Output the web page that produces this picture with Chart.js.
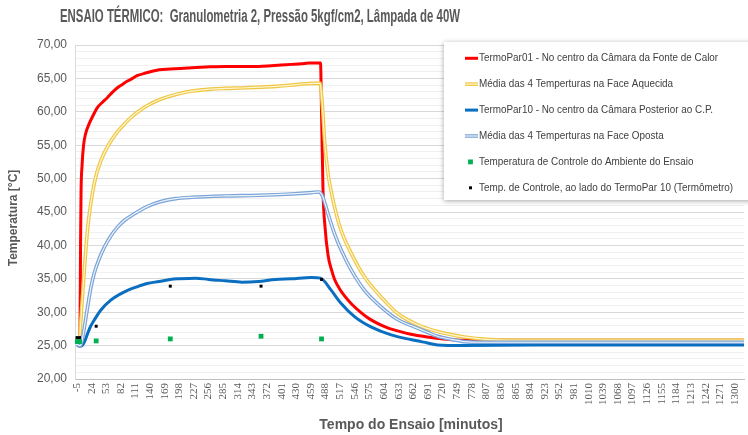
<!DOCTYPE html>
<html><head><meta charset="utf-8">
<script src="https://cdn.jsdelivr.net/npm/chart.js@4/dist/chart.umd.min.js"></script>
<style>html,body{margin:0;padding:0;background:#fff;overflow:hidden}canvas{display:block}</style>
</head><body>
<canvas id="c" width="748" height="435"></canvas>
<script>
const chartTitle = 'ENSAIO TÉRMICO:  Granulometria 2, Pressão 5kgf/cm2, Lâmpada de 40W';
const xTitle = 'Tempo do Ensaio [minutos]';
const yTitle = 'Temperatura [°C]';
const seriesNames = [
  'TermoPar01 - No centro da Câmara da Fonte de Calor',
  'Média das 4 Temperturas na Face Aquecida',
  'TermoPar10 - No centro da Câmara Posterior ao C.P.',
  'Média das 4 Temperturas na Face Oposta',
  'Temperatura de Controle do Ambiente do Ensaio',
  'Temp. de Controle, ao lado do TermoPar 10 (Termômetro)'
];
const xTickLabels = [-5,24,53,82,111,140,169,198,227,256,285,314,343,372,401,430,459,488,517,546,575,604,633,662,691,720,749,778,807,836,865,894,923,952,981,1010,1039,1068,1097,1126,1155,1184,1213,1242,1271,1300];

// TermoPar01 (red)
const tRed = [-5,0,1,2,3,5,8,12,19,24,35,45,55,65,75,85,95,105,114,131,158,180,200,223,250,289,320,355,380,400,420,440,455,470,478,480,483,487,493,500,506,515,526,540,559,575,592,610,631,657,690,723,760,800,900,1000,1100,1200,1318];
const vRed = [25.8,26.0,28,40,48,52,55,56.7,58.2,59.0,60.6,61.4,62.1,62.9,63.6,64.1,64.6,65.0,65.4,65.8,66.3,66.4,66.5,66.6,66.7,66.8,66.8,66.8,66.9,67.0,67.1,67.2,67.3,67.3,67.3,60,48,42.7,38.5,36.3,34.9,33.6,32.4,31.2,29.9,29.0,28.3,27.7,27.2,26.7,26.3,26.0,25.8,25.8,25.8,25.8,25.8,25.8,25.8];

// Média Face Aquecida (yellow)
const tYel = [-5,0,2,5,9,16,26,34,42,52,62,75,88,100,114,134,158,191,223,260,289,330,355,390,420,450,477,480,483,486,493,500,506,519,539,565,598,631,671,710,763,815,860,1000,1318];
const vYel = [26.0,26.0,28,31.5,35.8,42.5,48,50.8,52.6,54.3,55.6,57.0,58.1,59.0,59.9,60.9,61.8,62.6,63.1,63.4,63.5,63.6,63.7,63.8,64.0,64.2,64.3,62.5,59.5,55.7,50.7,47.8,45.7,42.2,38.8,35.3,32.3,29.8,28.1,27.1,26.3,25.9,25.8,25.8,25.8];

// TermoPar10 (dark blue)
const tDb = [-5,0,5,10,16,22,29,42,62,88,114,134,158,180,197,230,256,289,322,355,388,420,460,478,499,519,546,578,618,657,690,710,760,900,1100,1318];
const vDb = [25.1,24.9,25.0,25.6,26.8,27.9,28.8,30.3,31.8,33.0,33.8,34.3,34.6,34.9,35.0,35.1,34.9,34.7,34.5,34.6,34.9,35.0,35.2,35.1,33.3,31.3,29.3,27.8,26.6,25.9,25.4,25.1,25.0,25.1,25.1,25.1];

// Média Face Oposta (light blue)
const tLb = [-5,0,3,8,16,22,29,39,49,62,75,90,108,134,158,191,223,289,355,420,460,475,479,483,493,506,519,539,565,598,631,664,690,710,740,763,800,1000,1318];
const vLb = [25.2,25.0,25.2,27.0,30.8,33.5,35.8,38.0,39.7,41.4,42.7,43.8,44.7,45.8,46.5,47.0,47.2,47.4,47.5,47.7,47.9,48.0,47.8,47.2,44.7,41.7,39.3,36.3,33.3,30.8,28.9,27.8,27.0,26.4,25.9,25.6,25.5,25.5,25.5];

// Control points
const tGreen = [-5,0,33,180,360,480];
const vGreen = [25.6,25.6,25.7,26.0,26.4,26.0];
const tBlack = [-5,0,33,180,360,480];
const vBlack = [26.2,26.2,27.9,33.9,33.9,34.9];

const pts = (t, v) => t.map((x, i) => ({x, y: v[i]}));
const lineDs = (label, t, v, color, width, order, legend) => ({
  label, data: pts(t, v), borderColor: color, backgroundColor: color,
  borderWidth: width, pointRadius: 0, pointHoverRadius: 0, order,
  cubicInterpolationMode: 'monotone', fill: false, legend
});
const pointDs = (label, t, v, color, r, order) => ({
  label, data: pts(t, v), showLine: false, borderColor: color, backgroundColor: color,
  pointStyle: 'rect', pointRadius: r, pointBorderWidth: 0, order, legend: true
});

const datasets = [
  lineDs(seriesNames[0], tRed, vRed, '#FF0000', 3, 9, true),
  lineDs(seriesNames[1], tYel, vYel, '#EEC743', 3.6, 8, true),
  lineDs(seriesNames[1] + ' (inner)', tYel, vYel, '#FFF5D2', 1.2, 7.5, false),
  lineDs(seriesNames[2], tDb, vDb, '#0B6FC1', 3, 7, true),
  lineDs(seriesNames[3], tLb, vLb, '#7BA4D8', 3.6, 6, true),
  lineDs(seriesNames[3] + ' (inner)', tLb, vLb, '#EEF3FA', 1.2, 5.5, false),
  pointDs(seriesNames[4], tGreen, vGreen, '#00B050', 3.4, 2),
  pointDs(seriesNames[5], tBlack, vBlack, '#000000', 2.1, 1)
];
const innerOf = {1: 2, 4: 5};

const overlay = {
  id: 'overlay',
  afterDraw(chart) {
    const ctx = chart.ctx;
    // Title
    ctx.save();
    ctx.fillStyle = '#595959';
    ctx.font = 'bold 18px "Liberation Sans", Arial, sans-serif';
    ctx.textBaseline = 'middle';
    ctx.textAlign = 'center';
    let w = ctx.measureText(chartTitle).width;
    ctx.translate(260, 17);
    ctx.scale(400 / w, 1);
    ctx.fillText(chartTitle, 0, 0);
    ctx.restore();
    // Axis titles
    ctx.save();
    ctx.fillStyle = '#595959';
    ctx.font = 'bold 12px "Liberation Sans", Arial, sans-serif';
    ctx.textAlign = 'center';
    ctx.textBaseline = 'middle';
    ctx.translate(14, 218);
    ctx.rotate(-Math.PI / 2);
    ctx.fillText(yTitle, 0, 0);
    ctx.restore();
    ctx.save();
    ctx.fillStyle = '#595959';
    ctx.font = 'bold 14px "Liberation Sans", Arial, sans-serif';
    ctx.textAlign = 'center';
    ctx.textBaseline = 'middle';
    ctx.fillText(xTitle, 411, 425);
    ctx.restore();
    // Legend box
    ctx.save();
    ctx.shadowColor = 'rgba(0,0,0,0.35)';
    ctx.shadowBlur = 5;
    ctx.shadowOffsetX = 0;
    ctx.shadowOffsetY = 1;
    ctx.fillStyle = '#ffffff';
    ctx.fillRect(444, 42, 320, 158);
    ctx.restore();
    ctx.save();
    ctx.font = '10.5px "Liberation Sans", Arial, sans-serif';
    const longest = ctx.measureText(seriesNames[5]).width;
    const sx = 254 / longest;
    const items = chart.data.datasets.map((d, i) => ({d, i})).filter(o => o.d.legend);
    items.forEach((o, k) => {
      const y = 58.3 + k * 25.9;
      const d = o.d;
      if (d.showLine === false) {
        const s = d.pointRadius * Math.SQRT1_2;
        ctx.fillStyle = d.backgroundColor;
        ctx.fillRect(470.5 - s, y - s, 2 * s, 2 * s);
      } else {
        ctx.lineCap = 'butt';
        ctx.strokeStyle = d.borderColor;
        ctx.lineWidth = d.borderWidth;
        ctx.beginPath(); ctx.moveTo(465, y); ctx.lineTo(478, y); ctx.stroke();
        if (innerOf[o.i] !== undefined) {
          const inner = chart.data.datasets[innerOf[o.i]];
          ctx.strokeStyle = inner.borderColor;
          ctx.lineWidth = inner.borderWidth;
          ctx.beginPath(); ctx.moveTo(465, y); ctx.lineTo(478, y); ctx.stroke();
        }
      }
      ctx.save();
      ctx.fillStyle = '#404040';
      ctx.textAlign = 'left';
      ctx.textBaseline = 'middle';
      ctx.translate(479, y);
      ctx.scale(sx, 1);
      ctx.fillText(d.label, 0, 0);
      ctx.restore();
    });
    ctx.restore();
  }
};

new Chart(document.getElementById('c'), {
  type: 'line',
  data: { datasets },
  options: {
    responsive: false,
    animation: false,
    events: [],
    layout: { padding: { top: 45, right: 0, bottom: 0, left: 0 } },
    plugins: { legend: { display: false }, title: { display: false }, tooltip: { enabled: false } },
    scales: {
      x: {
        type: 'linear', min: -9, max: 1318,
        grid: { display: false, drawTicks: false },
        border: { display: true, color: '#BFBFBF', width: 1 },
        ticks: {
          autoSkip: false, maxRotation: 90, minRotation: 90, padding: 4,
          color: '#595959', font: { family: '"Liberation Serif", serif', size: 11 },
          callback: v => String(v)
        },
        afterBuildTicks: s => { s.ticks = xTickLabels.map(v => ({ value: v })); },
        afterFit: s => { s.height = 56; s.paddingLeft = 0; s.paddingRight = 0; }
      },
      y: {
        type: 'linear', min: 20, max: 70,
        grid: { color: c => (c.tick && c.tick.value % 5 === 0) ? '#D9D9D9' : '#F0F0F0', drawTicks: false, lineWidth: 1 },
        border: { display: true, color: '#D9D9D9', width: 1 },
        ticks: {
          autoSkip: false, padding: 8, color: '#595959', font: { family: '"Liberation Sans", Arial, sans-serif', size: 12 },
          callback: v => (v % 5 === 0) ? v.toFixed(2).replace('.', ',') : ''
        },
        afterBuildTicks: s => { const a = []; for (let v = 20; v <= 70; v++) a.push({ value: v }); s.ticks = a; },
        afterFit: s => { s.width = 75; s.paddingTop = 0; s.paddingBottom = 0; }
      }
    }
  },
  plugins: [overlay]
});
</script>
</body></html>
